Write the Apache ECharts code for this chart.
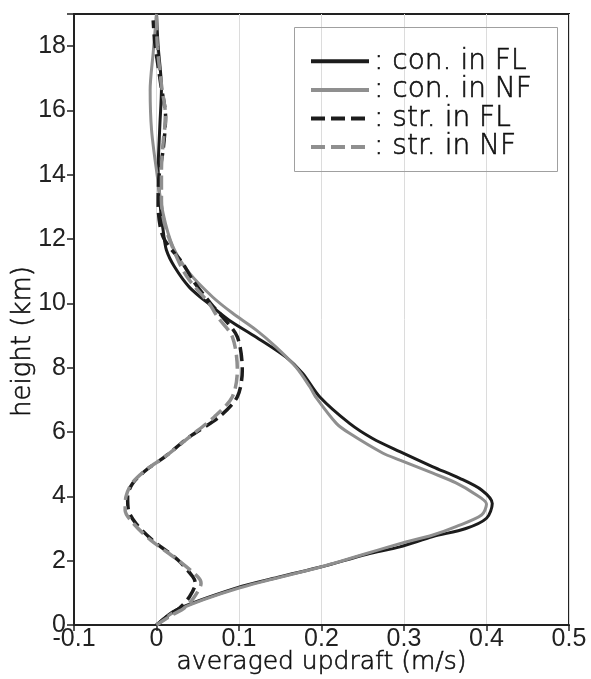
<!DOCTYPE html>
<html>
<head>
<meta charset="utf-8">
<script src="https://cdn.jsdelivr.net/npm/echarts@6/dist/echarts.min.js"></script>
<style>
html,body{margin:0;padding:0;background:#fff;}
#chart{width:591px;height:679px;}
</style>
</head>
<body>
<div id="chart"></div>
<script>
// ---- data (height in km, averaged updraft in m/s) ----
const seriesNames = ['con. in FL', 'con. in NF', 'str. in FL', 'str. in NF'];
const xTicks = [-0.1, 0, 0.1, 0.2, 0.3, 0.4, 0.5];
const yTicks = [0, 2, 4, 6, 8, 10, 12, 14, 16, 18];

const conFL_h = [0, 0.47, 1.15, 1.5, 1.81, 2.2, 2.43, 2.75, 3.0, 3.32, 3.78, 4.2, 4.57, 4.92, 5.39, 5.8, 6.27, 7.09, 7.83, 8.33, 8.95, 9.48, 9.89, 10.5, 11.13, 11.66, 12.28, 12.9, 14.14, 15.5, 16.7, 18.0, 19.0];
const conFL_v = [0, 0.024, 0.097, 0.15, 0.2, 0.255, 0.295, 0.335, 0.375, 0.40, 0.407, 0.394, 0.367, 0.335, 0.295, 0.262, 0.234, 0.198, 0.177, 0.157, 0.121, 0.088, 0.068, 0.04, 0.022, 0.012, 0.008, 0.005, 0.002, 0.004, 0.006, 0.002, 0];

const conNF_h = [0, 0.47, 1.15, 1.81, 2.53, 2.8, 3.06, 3.42, 3.76, 4.09, 4.42, 4.72, 5.13, 5.35, 5.96, 6.27, 7.09, 7.4, 8.02, 8.64, 9.17, 9.7, 10.2, 10.94, 11.76, 12.8, 14.14, 15.4, 16.63, 17.8, 19.0];
const conNF_v = [0, 0.026, 0.1, 0.2, 0.295, 0.335, 0.363, 0.394, 0.4, 0.385, 0.363, 0.335, 0.295, 0.274, 0.234, 0.218, 0.193, 0.186, 0.169, 0.145, 0.121, 0.092, 0.068, 0.04, 0.02, 0.008, 0, -0.006, -0.0077, -0.004, 0];

const strFL_h = [0, 0.3, 0.53, 0.88, 1.3, 1.5, 2.02, 2.64, 3.16, 3.57, 3.99, 4.4, 4.82, 5.23, 5.85, 6.47, 7.1, 7.93, 8.96, 9.58, 9.99, 10.72, 11.24, 12.07, 13.1, 13.94, 14.77, 15.8, 16.85, 18.1, 18.8];
const strFL_v = [0, 0.015, 0.028, 0.04, 0.047, 0.044, 0.026, -0.005, -0.025, -0.034, -0.035, -0.029, -0.0125, 0.01, 0.04, 0.076, 0.098, 0.104, 0.098, 0.08, 0.066, 0.044, 0.032, 0.008, 0.002, 0.003, 0.008, 0.011, 0.005, -0.002, -0.004];

const strNF_h = [0, 0.3, 0.53, 0.88, 1.3, 1.5, 2.02, 2.64, 3.16, 3.57, 3.99, 4.4, 4.82, 5.23, 5.85, 6.47, 7.1, 7.93, 8.96, 9.58, 9.99, 10.72, 11.24, 12.35, 13.2, 14.14, 15.0, 15.8, 16.8, 18.0, 19.0];
const strNF_v = [0, 0.018, 0.034, 0.046, 0.054, 0.05, 0.026, -0.007, -0.028, -0.038, -0.037, -0.03, -0.013, 0.01, 0.04, 0.07, 0.092, 0.098, 0.092, 0.074, 0.064, 0.04, 0.028, 0.011, 0.006, 0.006, 0.008, 0.011, 0.006, 0.001, 0];

// ---- build chart ----
function pairs(v, h) { return v.map((x, i) => [x, h[i]]); }
const TICKFONT = 'Liberation Sans';
const FONT = 'DejaVu Sans';
const BLACK = '#1c1c1c';
const GRAY = '#8f8f8f';
const TXT = '#111';

const chart = echarts.init(document.getElementById('chart'), null, { renderer: 'canvas' });

function lineSeries(name, data, color, dashed) {
  return {
    name: name,
    type: 'line',
    data: data,
    showSymbol: false,
    symbol: 'none',
    smooth: 0.3,
    lineStyle: { color: color, width: dashed ? 3.5 : 3, type: dashed ? [14, 6] : 'solid' },
    itemStyle: { color: color },
    emphasis: { disabled: true },
    z: dashed ? 3 : 2
  };
}

const titleText = { fontFamily: FONT, fontWeight: 200, color: TXT, textBorderColor: TXT, textBorderWidth: 0.6 };

chart.setOption({
  animation: false,
  backgroundColor: '#fff',
  grid: {
    left: 74, right: 22, top: 14, bottom: 54,
    outerBoundsMode: 'none',
    containLabel: false,
    show: true, borderColor: '#222', borderWidth: 2, backgroundColor: 'transparent'
  },
  xAxis: {
    type: 'value',
    min: xTicks[0], max: xTicks[xTicks.length - 1], interval: 0.1,
    name: 'averaged updraft (m/s)',
    nameLocation: 'middle', nameGap: 25, nameMoveOverlap: false,
    nameTextStyle: Object.assign({ fontSize: 25 }, titleText),
    axisLine: { show: true, onZero: false, lineStyle: { color: '#222', width: 2 } },
    axisTick: { show: true, length: 6, lineStyle: { color: '#222', width: 1.5 } },
    axisLabel: {
      fontFamily: TICKFONT, fontSize: 25, color: '#222', margin: 2,
      formatter: v => String(+v.toFixed(1))
    },
    splitLine: { show: true, lineStyle: { color: '#dcdcdc', width: 1 } }
  },
  yAxis: {
    type: 'value',
    min: 0, max: 19, interval: 2,
    name: 'height (km)',
    nameLocation: 'middle', nameGap: 38, nameMoveOverlap: false,
    nameTextStyle: Object.assign({ fontSize: 26, padding: [0, 44, 0, 0] }, titleText),
    axisLine: { show: true, onZero: false, lineStyle: { color: '#222', width: 2 } },
    axisTick: { show: true, length: 7, lineStyle: { color: '#222', width: 1.5 } },
    axisLabel: {
      fontFamily: TICKFONT, fontSize: 25, color: '#222', margin: 8,
      formatter: v => (yTicks.indexOf(v) >= 0 ? String(v) : '')
    },
    splitLine: { show: false }
  },
  legend: {
    orient: 'vertical',
    left: 304, top: 27,
    padding: [20, 5, 12, 5],
    itemGap: 0,
    itemWidth: 58,
    itemHeight: 14,
    selectedMode: false,
    data: seriesNames,
    itemStyle: { opacity: 0 },
    lineStyle: { width: 4 },
    formatter: n => ': ' + n,
    textStyle: Object.assign({ fontSize: 28, lineHeight: 28 }, titleText)
  },
  graphic: [{
    type: 'rect',
    shape: { x: 294.5, y: 27.5, width: 263, height: 144 },
    style: { fill: 'none', stroke: '#a0a0a0', lineWidth: 1 },
    z: 100, silent: true
  }],
  series: [
    lineSeries(seriesNames[0], pairs(conFL_v, conFL_h), BLACK, false),
    lineSeries(seriesNames[1], pairs(conNF_v, conNF_h), GRAY, false),
    lineSeries(seriesNames[2], pairs(strFL_v, strFL_h), BLACK, true),
    lineSeries(seriesNames[3], pairs(strNF_v, strNF_h), GRAY, true)
  ]
});
</script>
</body>
</html>
